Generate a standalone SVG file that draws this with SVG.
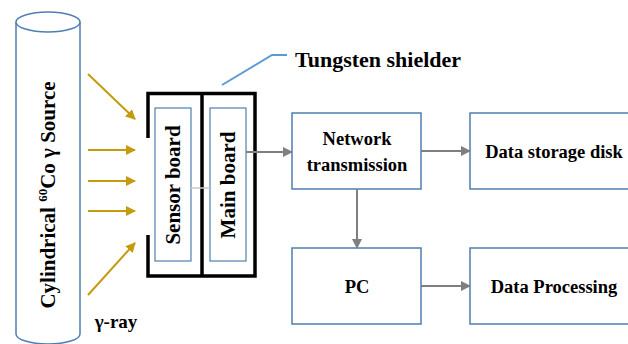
<svg xmlns="http://www.w3.org/2000/svg" width="628" height="344" viewBox="0 0 628 344">
  <defs>
    <marker id="gold-head" viewBox="0 0 10 10" refX="9" refY="5" markerWidth="10" markerHeight="10" markerUnits="userSpaceOnUse" orient="auto">
      <path d="M0,0 L10,5 L0,10 Z" fill="#C59B0E"/>
    </marker>
    <marker id="gray-head" viewBox="0 0 10 10" refX="9" refY="5" markerWidth="10" markerHeight="10" markerUnits="userSpaceOnUse" orient="auto">
      <path d="M0,0 L10,5 L0,10 Z" fill="#7F7F7F"/>
    </marker>
  </defs>
  <style>
    text { font-family: "Liberation Serif", "Times New Roman", serif; font-weight: bold; fill: #000; }
    .box { fill: #fff; stroke: #4F7FB0; stroke-width: 1.5; }
    .board { fill: #fff; stroke: #4F7FB0; stroke-width: 1.2; }
    .shield { fill: none; stroke: #000; stroke-width: 3.5; }
    .ray { stroke: #C59B0E; stroke-width: 2; fill: none; marker-end: url(#gold-head); }
    .link { stroke: #7F7F7F; stroke-width: 2; fill: none; marker-end: url(#gray-head); }
    .lbl { font-size: 18.5px; text-anchor: middle; }
    .vlbl { font-size: 21px; text-anchor: middle; }
  </style>
  <rect width="628" height="344" fill="#fff"/>

  <!-- Cylindrical gamma source -->
  <g id="source">
    <path d="M16,22 L16,334 A32,10 0 0 0 80,334 L80,22" fill="#fff" stroke="#4F7FB0" stroke-width="1.5"/>
    <ellipse cx="48" cy="22" rx="32" ry="10" fill="#fff" stroke="#4F7FB0" stroke-width="1.5"/>
    <text class="vlbl" transform="translate(55,195) rotate(-90)">Cylindrical <tspan font-size="13" dy="-8">60</tspan><tspan dy="8">Co γ Source</tspan></text>
  </g>

  <!-- Gamma rays -->
  <g id="rays">
    <line class="ray" x1="88" y1="74" x2="135" y2="119"/>
    <line class="ray" x1="88" y1="150" x2="135" y2="150"/>
    <line class="ray" x1="88" y1="181" x2="135" y2="181"/>
    <line class="ray" x1="88" y1="211" x2="135" y2="211"/>
    <line class="ray" x1="88" y1="295" x2="135" y2="243"/>
    <text x="116" y="328" font-size="19px" text-anchor="middle">γ-ray</text>
  </g>

  <!-- Tungsten shield housing -->
  <g id="shield">
    <path class="shield" d="M148,138 L148,93.5 L255,93.5 L255,276 L148,276 L148,235"/>
    <line class="shield" x1="202" y1="93.5" x2="202" y2="276"/>
    <polyline points="222,85 272,55 287,55" fill="none" stroke="#5B9BD5" stroke-width="2"/>
    <text x="295" y="67" font-size="22px">Tungsten shielder</text>
  </g>

  <g id="sensor-board">
    <rect class="board" x="155" y="108" width="36" height="153"/>
    <text class="vlbl" transform="translate(180,185) rotate(-90)">Sensor board</text>
  </g>

  <g id="main-board">
    <rect class="board" x="210" y="108" width="36" height="153"/>
    <text class="vlbl" transform="translate(235,185) rotate(-90)">Main board</text>
  </g>

  <g id="network">
    <rect class="box" x="292" y="113" width="129" height="76"/>
    <text class="lbl" x="357" y="145">Network</text>
    <text class="lbl" x="357" y="171">transmission</text>
  </g>

  <g id="storage">
    <rect class="box" x="470" y="113" width="170" height="76"/>
    <text class="lbl" x="554" y="158">Data storage disk</text>
  </g>

  <g id="pc">
    <rect class="box" x="292" y="248" width="129" height="76"/>
    <text class="lbl" x="357" y="293">PC</text>
  </g>

  <g id="processing">
    <rect class="box" x="470" y="248" width="170" height="76"/>
    <text class="lbl" x="554" y="293">Data Processing</text>
  </g>

  <!-- Connectors -->
  <g id="connectors">
    <line x1="191" y1="188" x2="210" y2="188" stroke="#C8C8C8" stroke-width="1.5"/>
    <line class="link" x1="246" y1="152" x2="292" y2="152"/>
    <line class="link" x1="421" y1="151" x2="470" y2="151"/>
    <line class="link" x1="357" y1="189" x2="357" y2="248"/>
    <line class="link" x1="421" y1="286" x2="470" y2="286"/>
  </g>
</svg>
